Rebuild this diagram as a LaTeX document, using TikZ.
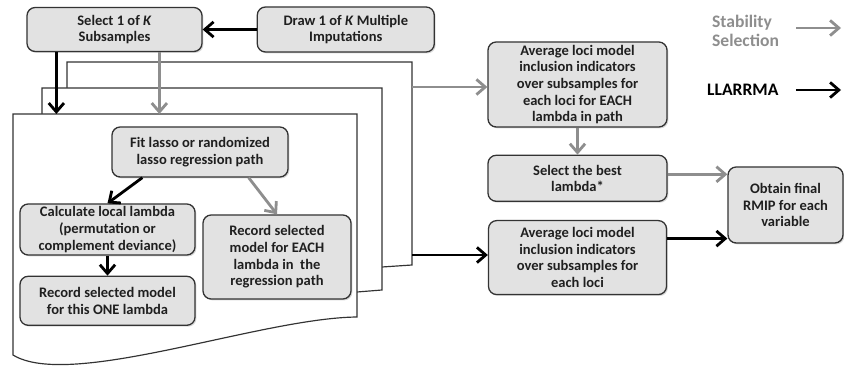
\documentclass[tikz,border=0pt]{standalone}
\usepackage{fontspec}
\setmainfont{Carlito}
\usetikzlibrary{arrows.meta,positioning,calc,shadows}
\definecolor{boxfill}{HTML}{E2E2E2}
\definecolor{edge}{HTML}{333333}
\definecolor{stabgray}{HTML}{8E8E8E}

\begin{document}
\begin{tikzpicture}[x=0.3mm, y=-0.3mm,
  every node/.style={font=\fontsize{12.4}{14.2}\selectfont\bfseries, text=black!88},
  box/.style={draw=edge, line width=1.1pt, rounded corners=7pt, fill=boxfill, align=center, inner sep=0.5pt,
    drop shadow={shadow xshift=1.2pt, shadow yshift=-1.2pt, opacity=.3}},
  page/.style={draw=edge, line width=1pt, fill=white},
  blk/.style={draw=black, line width=2.4pt, -{Straight Barb[length=7.5pt,width=13pt]}},
  gry/.style={draw=stabgray, line width=2.4pt, -{Straight Barb[length=7.5pt,width=13pt]}}]
\useasboundingbox (0,0) rectangle (844,368);

\draw[page] (67,62) -- (412,62) -- (412,265) -- (382,267) -- (67,267) -- cycle;
\draw[page] (42,88) -- (382,88) -- (382,290) -- (357,292) -- (42,292) -- cycle;
\draw[page] (13,114) -- (357,114) -- (357,317) .. controls (260,318) and (70,390) .. (13,355) -- cycle;
\coordinate (frontTop) at (13,114);
\coordinate (backOut1) at (412,87);
\coordinate (backOut2) at (412,255);
\coordinate (legR) at (841,0);

\node[box, minimum width=52.5mm, minimum height=13.2mm] (sel) at (114.5,29.5) {Select 1 of \textit{K}\\Subsamples};
\node[box, minimum width=53.1mm, minimum height=13.5mm, right=16.2mm of sel] (drw) {Draw 1 of \textit{K} Multiple\\Imputations};
\node[box, minimum width=52.8mm, minimum height=15mm] (fit) at (200,152) {Fit lasso or randomized\\lasso regression path};
\node[box, minimum width=52.5mm, minimum height=15.3mm] (calc) at (107.5,229.5) {Calculate local lambda\\(permutation or\\complement deviance)};
\node[box, minimum width=52.5mm, minimum height=14.7mm, below=6mm of calc] (one) {Record selected model\\for this ONE lambda};
\node[box, minimum width=44.4mm, minimum height=25.2mm] (each) at (277,257) {Record selected\\model for EACH\\lambda in~ the\\regression path};
\node[box, minimum width=53.7mm, minimum height=25.5mm] (avg1) at (577.5,84.5) {Average loci model\\inclusion indicators\\over subsamples for\\each loci for EACH\\lambda in path};
\node[box, minimum width=53.7mm, minimum height=13.8mm, below=8.1mm of avg1] (best) {Select the best\\lambda*};
\node[box, minimum width=53.4mm, minimum height=22.2mm, below=5.4mm of best] (avg2) {Average loci model\\inclusion indicators\\over subsamples for\\each loci};
\node[box, minimum width=34.5mm, minimum height=22.8mm] (obt) at (785.5,205) {Obtain final\\RMIP for each\\variable};

\node[align=left, anchor=west, text=stabgray, font=\fontsize{15}{16}\selectfont\bfseries] (stab) at (708,31) {Stability\\Selection};
\node[anchor=west, text=black, font=\fontsize{15}{16}\selectfont\bfseries] (llar) at (703,90) {LLARRMA};

\draw[blk] (drw) -- (sel);
\draw[blk] ($(sel.south west)+(30,0)$) coordinate (s1) -- (s1 |- frontTop);
\draw[gry] ($(sel.south west)+(133,0)$) coordinate (s2) -- (s2 |- frontTop);
\draw[blk] ($(fit.south west)+(31,0)$) -- (calc.north);
\draw[gry] ($(fit.south east)+(-40,0)$) -- (each.north);
\draw[blk] (calc) -- (one);
\draw[gry] (backOut1) -- (backOut1 -| avg1.west);
\draw[blk] (backOut2) -- (backOut2 -| avg2.west);
\draw[gry] (avg1) -- (best);
\draw[gry] ($(best.east)+(0,-4)$) coordinate (b1) -- (b1 -| obt.west);
\draw[blk] ($(avg2.east)+(0,-19)$) coordinate (a1) -- (a1 -| obt.west);
\draw[gry, shorten <=4mm] (stab.east |- 0,28) -- (legR |- 0,28);
\draw[blk, shorten <=4mm] (llar.east) -- (llar.east -| legR);
\end{tikzpicture}
\end{document}
